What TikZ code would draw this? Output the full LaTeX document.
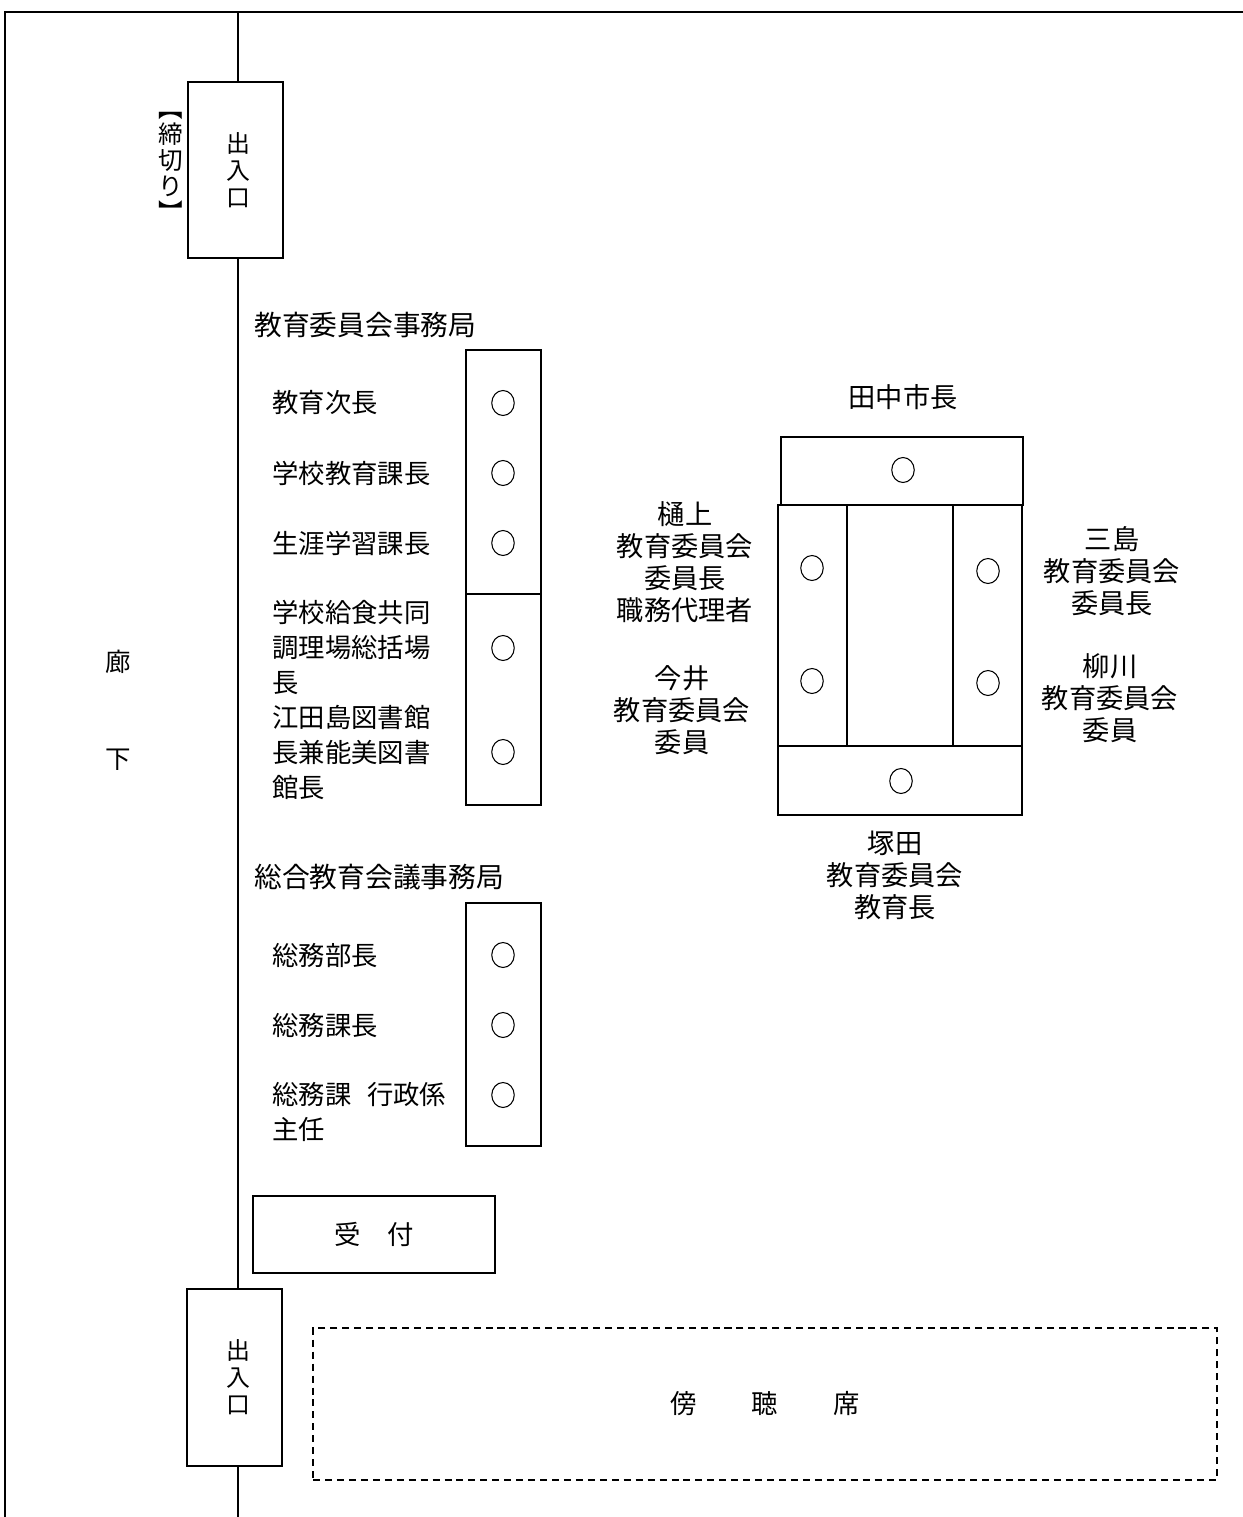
\documentclass[tikz,border=0pt]{standalone}
\usepackage{fontspec}
\setmainfont{Noto Sans CJK JP}
\usetikzlibrary{shapes.geometric}
\tikzset{
  wall/.style={line width=0.8pt},
  box/.style={draw,line width=0.8pt,rectangle,inner sep=0pt},
  seat/.style={draw,ellipse,minimum width=0.45cm,minimum height=0.5cm,inner sep=0pt,line width=0.6pt},
  lbl/.style={anchor=west,inner sep=0pt,align=left,font=\fontsize{15}{19.9}\selectfont},
  head/.style={anchor=west,inner sep=0pt,font=\fontsize{15.8}{18}\selectfont},
  pname/.style={inner sep=0pt,align=center,font=\fontsize{15.5}{18.2}\selectfont},
  vert/.style={inner sep=0pt,align=center,font=\fontsize{13.6}{15.3}\selectfont},
}
\begin{document}
\begin{tikzpicture}[x=0.02cm,y=-0.02cm]
\useasboundingbox (0,0) rectangle (1243,1517);
% outer border
\draw[wall] (5,1517) -- (5,12) -- (1243,12);
% doors
\node[box,minimum width=1.9cm,minimum height=3.52cm] (d1) at (235.5,170) {};
\node[vert] (d1t) at (238,170) {出\\入\\口};
\node[box,minimum width=1.9cm,minimum height=3.54cm] (d2) at (234.5,1377.5) {};
\node[vert] (d2t) at (238,1377) {出\\入\\口};
\node[vert,font=\fontsize{14}{14.7}\selectfont] (shime) at (171,167) {︻\\締\\切\\り\\︼};
% wall line
\coordinate (wt) at (238,12);
\coordinate (wb) at (238,1517);
\draw[wall] (wt) -- (wt |- d1.north);
\draw[wall] (wt |- d1.south) -- (wt |- d2.north);
\draw[wall] (wt |- d2.south) -- (wb);
% corridor
\node[vert,font=\fontsize{14.5}{16}\selectfont] (ro) at (118,662) {廊};
\node[vert,font=\fontsize{14.5}{16}\selectfont] (ka) at (118,760) {下};
% education board secretariat
\node[head] (h1) at (254,325) {教育委員会事務局};
\node[box,minimum width=1.5cm,minimum height=9.1cm] (b1) at (503.5,577.5) {};
\coordinate (dv1) at (466,594);
\draw[line width=0.6pt] (dv1) -- (dv1 -| b1.east);
\foreach \y/\n in {403/a,473/b,543/c,648/d,752/e}{
  \node[seat] (s\n) at (503,\y) {};
}
\node[lbl] (l1) at (272,403) {教育次長};
\node[lbl] (l2) at (272,473) {学校教育課長};
\node[lbl] (l3) at (272,543) {生涯学習課長};
\node[lbl] (l4) at (272,647.5) {学校給食共同\\調理場総括場\\長};
\node[lbl] (l5) at (272,752.5) {江田島図書館\\長兼能美図書\\館長};
% general education council secretariat
\node[head] (h2) at (254,877) {総合教育会議事務局};
\node[box,minimum width=1.5cm,minimum height=4.86cm] (b2) at (503.5,1024.5) {};
\foreach \y/\n in {955/f,1025/g,1095/h}{
  \node[seat] (s\n) at (503,\y) {};
}
\node[lbl] (l6) at (272,955) {総務部長};
\node[lbl] (l7) at (272,1025) {総務課長};
\node[lbl] (l8) at (272,1112) {総務課\hspace{0.6em}行政係\\主任};
% reception
\node[box,minimum width=4.84cm,minimum height=1.54cm,font=\fontsize{15}{18}\selectfont] (uke) at (374,1234.5) {受\hspace{1em}付};
% gallery
\node[box,dashed,dash pattern=on 4pt off 2.8pt,minimum width=18.08cm,minimum height=3.04cm,font=\fontsize{15}{18}\selectfont] (bou) at (765,1404) {傍\hspace{2.1em}聴\hspace{2.1em}席};
% table
\node[box,minimum width=4.84cm,minimum height=1.36cm] (tt) at (902,471) {};
\node[box,minimum width=1.38cm,minimum height=4.82cm] (tl) at (812.5,625.5) {};
\node[box,minimum width=2.12cm,minimum height=4.82cm] (tm) at (900,625.5) {};
\node[box,minimum width=1.38cm,minimum height=4.82cm] (tr) at (987.5,625.5) {};
\node[box,minimum width=4.88cm,minimum height=1.38cm] (tb) at (900,780.5) {};
\node[seat] (st) at (903,470) {};
\node[seat] (sl1) at (812,568) {};
\node[seat] (sl2) at (812,681) {};
\node[seat] (sr1) at (988,571) {};
\node[seat] (sr2) at (988,683) {};
\node[seat] (sb) at (901,781) {};
% names
\node[pname] (n1) at (903,397) {田中市長};
\node[pname] (n2) at (685,562) {樋上\\教育委員会\\委員長\\職務代理者};
\node[pname] (n3) at (682,710) {今井\\教育委員会\\委員};
\node[pname] (n4) at (1112,571) {三島\\教育委員会\\委員長};
\node[pname] (n5) at (1110,698) {柳川\\教育委員会\\委員};
\node[pname] (n6) at (895,875) {塚田\\教育委員会\\教育長};
\end{tikzpicture}
\end{document}
